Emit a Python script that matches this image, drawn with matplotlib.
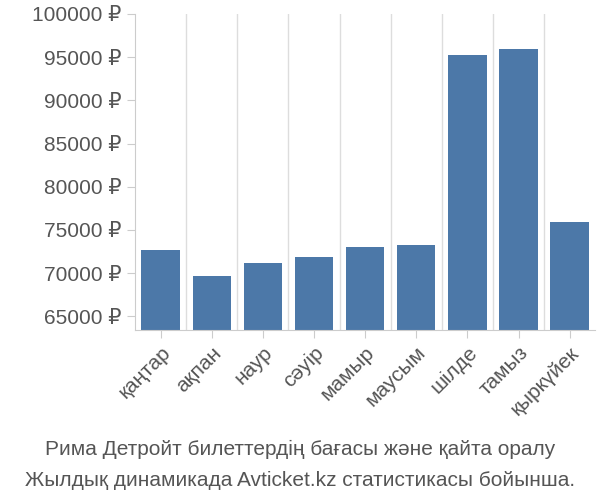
import matplotlib
matplotlib.use("Agg")
import matplotlib.pyplot as plt
from matplotlib.ticker import FuncFormatter

plt.rcParams['font.family'] = ['Liberation Sans', 'DejaVu Sans']

months = ['қаңтар', 'ақпан', 'наур', 'сәуір', 'мамыр', 'маусым', 'шілде', 'тамыз', 'қыркүйек']
prices = [72700, 69700, 71200, 71800, 73000, 73300, 95200, 95900, 75900]
yticks = [65000, 70000, 75000, 80000, 85000, 90000, 95000, 100000]

fig = plt.figure(figsize=(6, 5), dpi=100)
ax = fig.add_axes([0.225, 0.34, 0.767, 0.632])

x = range(len(months))
ax.bar(x, prices, width=0.75, color='#4c78a8', zorder=2)
ax.set_xlim(-0.5, len(months) - 0.5)
ax.set_ylim(63400, 100000)
ax.set_yticks(yticks)
ax.yaxis.set_major_formatter(FuncFormatter(lambda v, p: f'{int(v)} ₽'))
ax.set_xticks(list(x))
ax.set_xticklabels(months, rotation=45, ha='right', rotation_mode='anchor')
ax.tick_params(labelsize=15, colors='#cccccc', length=6)
for lbl in ax.get_xticklabels() + ax.get_yticklabels():
    lbl.set_color('#555555')

for xv in [i + 0.5 for i in range(len(months) - 1)]:
    ax.axvline(xv, color='#dddddd', lw=1, zorder=1)
for s in ['top', 'right']:
    ax.spines[s].set_visible(False)
ax.spines['left'].set_color('#cccccc')
ax.spines['bottom'].set_color('#cccccc')

fig.text(0.5, 0.09, 'Рима Детройт билеттердің бағасы және қайта оралу', ha='center', fontsize=15, color='#555555')
fig.text(0.5, 0.028, 'Жылдық динамикада Avticket.kz статистикасы бойынша.', ha='center', fontsize=15, color='#555555')

fig.savefig('out.png')
